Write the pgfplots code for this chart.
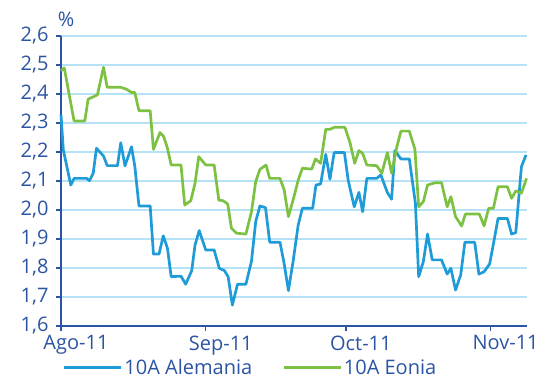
\documentclass[border=0pt]{standalone}
\usepackage{pgfplots}
\pgfplotsset{compat=1.18}
\usepackage{fontspec}
\setmainfont{Open Sans}
\definecolor{txtblue}{HTML}{2B55A3}
\definecolor{gridblue}{HTML}{B5E2F5}
\definecolor{serblue}{HTML}{1F9BD7}
\definecolor{sergreen}{HTML}{7DC143}
\begin{document}
\begin{tikzpicture}
\begin{axis}[
  scale only axis, width=466pt, height=290pt,
  xmin=0, xmax=99.8, ymin=1.6, ymax=2.6,
  axis x line*=bottom, axis y line*=left,
  axis line style={txtblue, line width=2.2pt, -},
  xtick={0,31,61,92},
  xticklabels={Ago-11,Sep-11,Oct-11,Nov-11},
  ytick={1.6,1.7,...,2.61},
  tick align=outside, major tick length=5pt,
  tick style={txtblue, line width=1.4pt},
  ymajorgrids, grid style={gridblue, line width=1.3pt},
  /pgf/number format/.cd, fixed, fixed zerofill, precision=1, use comma, assume math mode=true,
  /pgfplots/.cd,
  ticklabel style={font=\fontsize{20}{24}\selectfont, text=txtblue},
  yticklabel style={xshift=-4pt},
  xticklabel style={xshift=15pt, yshift=-1pt},
  legend style={at={(axis description cs:0.004,-0.143)}, anchor=west, draw=none, fill=none,
    legend columns=2, inner sep=0pt, outer sep=0pt,
    font=\fontsize{20}{24}\selectfont, text=txtblue,
    /tikz/every even column/.append style={column sep=28pt}},
  legend image code/.code={\draw[#1, line width=2.6pt] (0pt,0pt) -- (57pt,0pt);},
  clip=false,
]
\addplot[serblue, line width=2.7pt, line join=round] coordinates {
(0,2.328)(0.5,2.207)(2.1,2.086)(2.8,2.109)(5.5,2.109)(6.1,2.101)(6.9,2.127)(7.6,2.213)
(9.1,2.186)(9.9,2.153)(12.1,2.153)(12.8,2.232)(13.7,2.152)(15.1,2.218)(15.8,2.152)
(16.7,2.014)(19.1,2.014)(19.8,1.848)(21.0,1.848)(21.9,1.911)(22.8,1.868)(23.6,1.770)
(25.7,1.772)(26.7,1.744)(28.0,1.791)(28.7,1.879)(29.6,1.929)(31.0,1.862)(32.8,1.862)
(33.9,1.799)(35.0,1.791)(35.8,1.770)(36.7,1.672)(37.8,1.744)(39.6,1.744)(40.8,1.824)
(41.7,1.960)(42.6,2.014)(43.8,2.008)(44.7,1.889)(46.9,1.889)(47.8,1.814)(48.7,1.722)
(49.7,1.822)(50.8,1.948)(51.7,2.006)(53.9,2.006)(54.6,2.086)(55.6,2.090)(56.7,2.192)
(57.6,2.106)(58.5,2.198)(60.7,2.198)(61.5,2.103)(62.8,2.011)(63.8,2.061)(64.6,1.994)
(65.5,2.109)(67.6,2.109)(68.5,2.121)(69.9,2.060)(70.8,2.037)(71.5,2.205)(72.8,2.176)
(74.6,2.176)(75.9,2.023)(76.6,1.770)(77.6,1.822)(78.5,1.917)(79.5,1.828)(81.5,1.828)
(82.7,1.779)(83.5,1.799)(84.5,1.724)(85.6,1.776)(86.5,1.889)(88.6,1.889)(89.5,1.779)
(90.6,1.787)(91.8,1.814)(92.7,1.891)(93.6,1.971)(95.6,1.971)(96.5,1.917)(97.4,1.922)
(98.6,2.149)(99.6,2.190)
};
\addlegendentry{10A Alemania}
\addplot[sergreen, line width=2.7pt, line join=round] coordinates {
(0,2.48)(0.7,2.49)(2.8,2.307)(5.1,2.307)(5.8,2.382)(7.8,2.397)(9.1,2.492)(9.9,2.423)
(12.8,2.423)(14.1,2.416)(15.1,2.405)(15.8,2.405)(16.7,2.342)(19.1,2.342)(19.8,2.209)
(21.2,2.267)(22.0,2.253)(22.8,2.213)(23.6,2.155)(25.7,2.155)(26.5,2.017)(27.8,2.032)
(28.7,2.092)(29.5,2.184)(31.0,2.155)(32.8,2.155)(33.8,2.034)(34.7,2.032)(35.7,2.021)
(36.5,1.937)(37.6,1.920)(39.6,1.917)(40.8,1.994)(41.7,2.098)(42.6,2.140)(43.9,2.155)
(44.7,2.109)(46.9,2.109)(47.8,2.069)(48.7,1.977)(49.9,2.046)(50.8,2.103)(51.7,2.144)
(53.7,2.141)(54.5,2.176)(55.6,2.161)(56.7,2.278)(57.6,2.278)(58.5,2.285)(60.8,2.285)
(61.9,2.232)(62.9,2.161)(63.8,2.205)(64.6,2.195)(65.5,2.155)(67.6,2.153)(68.7,2.127)
(69.9,2.198)(70.8,2.127)(71.9,2.216)(72.8,2.272)(74.6,2.272)(75.8,2.209)(76.6,2.011)
(77.6,2.029)(78.5,2.086)(80.1,2.094)(81.5,2.094)(82.7,2.011)(83.5,2.046)(84.5,1.977)
(85.8,1.945)(86.6,1.986)(89.6,1.986)(90.6,1.945)(91.6,2.006)(92.6,2.006)(93.6,2.080)
(95.6,2.080)(96.5,2.040)(97.4,2.066)(98.6,2.058)(99.7,2.109)
};
\addlegendentry{10A Eonia}
\node[anchor=base, font=\fontsize{20}{24}\selectfont, text=txtblue] at ([xshift=5pt,yshift=9pt]rel axis cs:0,1) {\%};
\end{axis}
\pgfresetboundingbox
\path[use as bounding box] (-61pt,-54pt) rectangle (491pt,326pt);
\end{tikzpicture}
\end{document}
